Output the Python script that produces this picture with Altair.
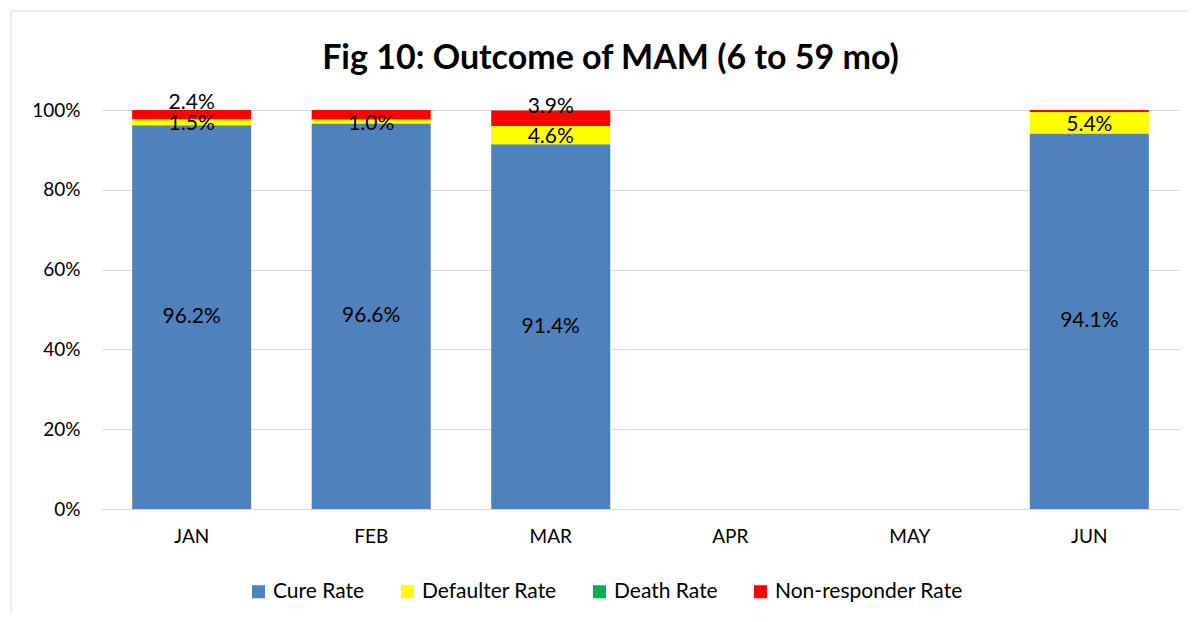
import altair as alt
import pandas as pd

months = ["JAN", "FEB", "MAR", "APR", "MAY", "JUN"]
series = ["Cure Rate", "Defaulter Rate", "Death Rate", "Non-responder Rate"]
colors = ["#4F81BD", "#FFFF00", "#00B050", "#FF0000"]

cure = [96.2, 96.6, 91.4, None, None, 94.1]
defaulter = [1.5, 1.0, 4.6, None, None, 5.4]
death = [0.0, 0.0, 0.0, None, None, 0.0]
nonresp = [2.4, 2.4, 3.9, None, None, 0.5]

cure_lab = [True, True, True, False, False, True]
defaulter_lab = [True, True, True, False, False, True]
death_lab = [False, False, False, False, False, False]
nonresp_lab = [True, False, True, False, False, False]

rows = []
for si, (name, vals, labs) in enumerate(zip(series, [cure, defaulter, death, nonresp],
                                             [cure_lab, defaulter_lab, death_lab, nonresp_lab])):
    for m, v, l in zip(months, vals, labs):
        if v is None:
            continue
        rows.append({"month": m, "series": name, "ord": si, "value": v,
                     "label": f"{v:.1f}%" if l else ""})
df = pd.DataFrame(rows)

FONT = "Lato"

base = alt.Chart(df).transform_stack(
    stack="value", as_=["y0", "y1"], groupby=["month"], sort=[alt.SortField("ord", order="ascending")]
).transform_calculate(mid="(datum.y0 + datum.y1) / 2")

xenc = alt.X("month:N", scale=alt.Scale(domain=months, paddingInner=0.337, paddingOuter=0.168),
             axis=alt.Axis(title=None, labelAngle=0, labelFontSize=19, labelColor="#000000",
                           ticks=False, domainColor="#d9d9d9", labelPadding=18, labelFont=FONT))

bars = base.mark_bar(clip=True).encode(
    x=xenc,
    y=alt.Y("y0:Q", scale=alt.Scale(domain=[0, 100], nice=False),
            axis=alt.Axis(title=None, values=[0, 20, 40, 60, 80, 100], labelExpr="datum.value + '%'",
                          domain=False, ticks=False, gridColor="#d9d9d9", labelFontSize=19,
                          labelColor="#000000", labelPadding=22, labelFont=FONT)),
    y2="y1:Q",
    color=alt.Color("series:N", scale=alt.Scale(domain=series, range=colors),
                    legend=alt.Legend(title=None, orient="none", direction="horizontal",
                                      legendX=146, legendY=471, symbolType="square",
                                      symbolSize=170, symbolStrokeWidth=0, labelFontSize=21,
                                      labelFont=FONT, labelColor="#000000", columnPadding=32,
                                      labelOffset=4, labelLimit=400)),
    order=alt.Order("ord:Q"),
)


def text_layer(names, dy):
    return base.transform_filter(
        alt.FieldOneOfPredicate(field="series", oneOf=names)
    ).mark_text(fontSize=21, font=FONT, color="#000000", dy=dy).encode(
        x=alt.X("month:N", scale=alt.Scale(domain=months)),
        y=alt.Y("mid:Q"),
        text="label:N",
    )


text_main = text_layer(["Cure Rate", "Death Rate"], 0)
text_def = text_layer(["Defaulter Rate"], 2)
text_non = text_layer(["Non-responder Rate"], -11)

frame = alt.Chart(pd.DataFrame({"f": [0]})).mark_rect(
    fill=None, stroke="#d9d9d9", strokeWidth=1, clip=False
).encode(x=alt.value(-91), x2=alt.value(1100), y=alt.value(-99), y2=alt.value(517))

chart = alt.layer(frame, bars, text_main, text_def, text_non).properties(
    width=1077, height=399,
    title=alt.TitleParams("Fig 10: Outcome of MAM (6 to 59 mo)", fontSize=34, font=FONT,
                          fontWeight="bold", anchor="middle", dx=-30, offset=-65,
                          color="#000000"),
    autosize=alt.AutoSizeParams(type="none"),
    padding={"left": 94, "top": 102, "right": 10, "bottom": 105},
).configure_view(stroke=None)

chart.save("out.html", embed_options={"renderer": "svg", "actions": False})
